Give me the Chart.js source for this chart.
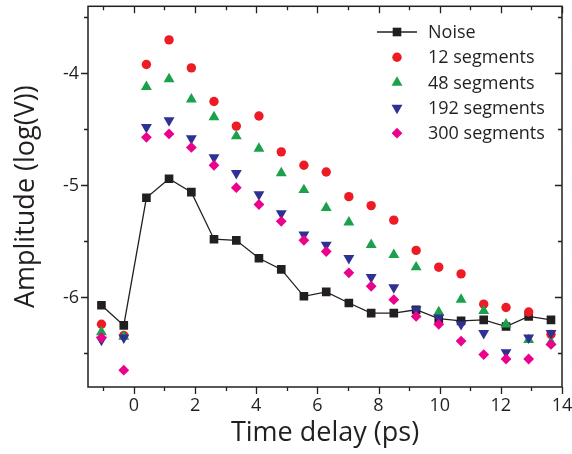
<!DOCTYPE html>
<html>
<head>
<meta charset="utf-8">
<script src="https://cdn.jsdelivr.net/npm/chart.js"></script>
<style>
  html, body { margin: 0; padding: 0; background: #fff; }
  canvas { display: block; }
</style>
</head>
<body>
<canvas id="chart" width="572" height="454"></canvas>
<script>
// time delay (ps) of each measurement
const timeDelay = [-1.06, -0.33, 0.41, 1.15, 1.88, 2.62, 3.35, 4.09, 4.82, 5.56, 6.29, 7.03, 7.76, 8.50, 9.23, 9.97, 10.70, 11.44, 12.17, 12.91, 13.64];

// amplitudes, log(V)
const noise  = [-6.07, -6.25, -5.11, -4.94, -5.06, -5.48, -5.49, -5.65, -5.75, -5.99, -5.95, -6.05, -6.14, -6.14, -6.11, -6.19, -6.21, -6.20, -6.26, -6.17, -6.20];
const seg12  = [-6.24, -6.34, -3.92, -3.70, -3.95, -4.25, -4.47, -4.38, -4.70, -4.82, -4.88, -5.10, -5.18, -5.31, -5.58, -5.73, -5.79, -6.06, -6.09, -6.13, -6.33];
const seg48  = [-6.31, -6.35, -4.12, -4.05, -4.23, -4.39, -4.56, -4.67, -4.89, -5.04, -5.20, -5.33, -5.53, -5.62, -5.73, -6.13, -6.02, -6.12, -6.24, -6.38, -6.40];
const seg192 = [-6.38, -6.36, -4.48, -4.42, -4.58, -4.75, -4.89, -5.08, -5.25, -5.44, -5.53, -5.65, -5.82, -5.91, -6.11, -6.18, -6.24, -6.32, -6.49, -6.36, -6.32];
const seg300 = [-6.36, -6.65, -4.57, -4.54, -4.66, -4.82, -5.02, -5.17, -5.32, -5.49, -5.59, -5.78, -5.90, -6.02, -6.17, -6.24, -6.39, -6.51, -6.55, -6.55, -6.42];

const xTicks = [0, 2, 4, 6, 8, 10, 12, 14];
const xMinor = [-1, 1, 3, 5, 7, 9, 11, 13];
const yTicks = [-6, -5, -4];
const yMinor = [-6.5, -5.5, -4.5, -3.5];

const ink = '#231f20';
const fontName = '"Open Sans", "DejaVu Sans", sans-serif';

function pts(ys) {
    return ys.map((v, i) => ({ x: timeDelay[i], y: v }));
}

// box round the plot with ticks on all four sides (out on bottom/left, in on top/right)
const frame = {
    id: 'frame',
    beforeDatasetsDraw(chart) {
        const { ctx, chartArea: a, scales: { x, y } } = chart;
        ctx.save();
        ctx.strokeStyle = ink;
        ctx.lineWidth = 1.5;
        ctx.strokeRect(a.left, a.top, a.right - a.left, a.bottom - a.top);
        ctx.lineWidth = 1.3;
        ctx.beginPath();
        function xMarks(vals, len) {
            vals.forEach(v => {
                const px = Math.round(x.getPixelForValue(v)) + 0.5;
                ctx.moveTo(px, a.bottom); ctx.lineTo(px, a.bottom + len);
                ctx.moveTo(px, a.top); ctx.lineTo(px, a.top + len);
            });
        }
        function yMarks(vals, len) {
            vals.forEach(v => {
                const py = Math.round(y.getPixelForValue(v)) + 0.5;
                ctx.moveTo(a.left, py); ctx.lineTo(a.left - len, py);
                ctx.moveTo(a.right, py); ctx.lineTo(a.right - len, py);
            });
        }
        xMarks(xTicks, 7);
        xMarks(xMinor, 4);
        yMarks(yTicks, 7);
        yMarks(yMinor, 4);
        ctx.stroke();
        ctx.restore();
    }
};

// legend in the top right corner of the plot
const cornerLegend = {
    id: 'cornerLegend',
    afterDraw(chart) {
        const ctx = chart.ctx;
        const markX = 397, textX = 428, top = 32, step = 25.3;
        ctx.save();
        ctx.font = '18px ' + fontName;
        ctx.textBaseline = 'middle';
        ctx.fillStyle = ink;
        chart.data.datasets.forEach((ds, i) => {
            const yy = top + i * step;
            if (ds.showLine) {
                ctx.strokeStyle = ds.borderColor;
                ctx.lineWidth = ds.borderWidth;
                ctx.beginPath();
                ctx.moveTo(377, yy); ctx.lineTo(417, yy);
                ctx.stroke();
            }
            ctx.fillStyle = ds.pointBackgroundColor;
            ctx.strokeStyle = ds.pointBackgroundColor;
            Chart.helpers.drawPoint(ctx, {
                pointStyle: ds.pointStyle,
                radius: ds.pointRadius,
                rotation: ds.pointRotation || 0,
                borderWidth: 0
            }, markX, yy);
            ctx.fillStyle = ink;
            ctx.fillText(ds.label, textX, yy + 1);
        });
        ctx.restore();
    }
};

function marks(label, ys, color, style, radius, extra) {
    return Object.assign({
        label: label,
        data: pts(ys),
        showLine: false,
        pointStyle: style,
        pointRadius: radius,
        pointHoverRadius: radius,
        pointBackgroundColor: color,
        pointBorderColor: color,
        pointBorderWidth: 0,
        borderColor: color
    }, extra || {});
}

new Chart(document.getElementById('chart'), {
    type: 'scatter',
    data: {
        datasets: [
            marks('Noise', noise, ink, 'rect', 6.1, { showLine: true, borderWidth: 1.3, order: 5 }),
            marks('12 segments', seg12, '#ed1c24', 'circle', 4.7, { order: 4 }),
            marks('48 segments', seg48, '#1ba14b', 'triangle', 6.3, { order: 3 }),
            marks('192 segments', seg192, '#2e3192', 'triangle', 6.3, { pointRotation: 180, order: 2 }),
            marks('300 segments', seg300, '#ec008c', 'rectRot', 5.4, { order: 1 })
        ]
    },
    options: {
        responsive: false,
        animation: false,
        devicePixelRatio: 1,
        layout: { padding: { left: 0, right: 10, top: 5, bottom: 0 } },
        plugins: {
            legend: { display: false },
            tooltip: { enabled: false }
        },
        scales: {
            x: {
                type: 'linear',
                min: -1.5,
                max: 14,
                afterBuildTicks: s => { s.ticks = xTicks.map(v => ({ value: v })); },
                afterFit: s => { s.height = 67; s.paddingLeft = 0; s.paddingRight = 0; },
                grid: { display: true, drawOnChartArea: false, drawTicks: true, tickLength: 7, color: 'rgba(0,0,0,0)' },
                border: { display: false },
                ticks: { color: ink, padding: 1, font: { family: fontName, size: 18 }, maxRotation: 0 },
                title: { display: true, text: 'Time delay (ps)', color: ink, padding: { top: 0, bottom: 4 }, font: { family: fontName, size: 27 } }
            },
            y: {
                type: 'linear',
                min: -6.8,
                max: -3.4,
                afterBuildTicks: s => { s.ticks = yTicks.map(v => ({ value: v })); },
                afterFit: s => { s.width = 88; s.paddingTop = 0; s.paddingBottom = 0; },
                grid: { display: true, drawOnChartArea: false, drawTicks: true, tickLength: 7, color: 'rgba(0,0,0,0)' },
                border: { display: false },
                ticks: { color: ink, padding: 2, font: { family: fontName, size: 18 } },
                title: { display: true, text: 'Amplitude (log(V))', color: ink, padding: { top: 10, bottom: 0 }, font: { family: fontName, size: 27 } }
            }
        }
    },
    plugins: [frame, cornerLegend]
});
</script>
</body>
</html>
